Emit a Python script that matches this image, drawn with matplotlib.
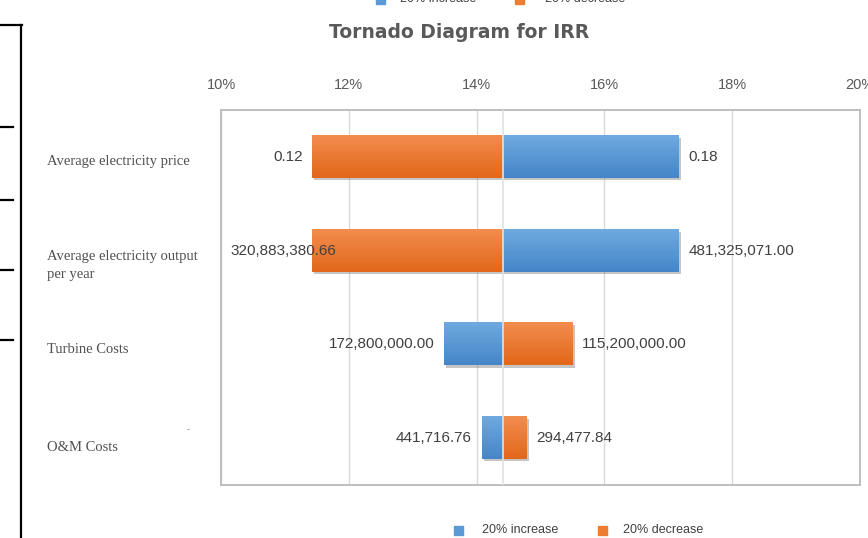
import numpy as np
import matplotlib
matplotlib.use('Agg')
import matplotlib.pyplot as plt
from matplotlib.colors import LinearSegmentedColormap
from matplotlib.lines import Line2D
import matplotlib.patheffects as pe

# data
categories = ['Average electricity price', 'Average electricity output\nper year',
              'Turbine Costs', 'O&M Costs']
base_irr = 14.41
irr_increase = [17.16, 17.16, 13.49, 14.08]
irr_decrease = [11.43, 11.43, 15.50, 14.78]
labels_increase = ['0.18', '481,325,071.00', '172,800,000.00', '441,716.76']
labels_decrease = ['0.12', '320,883,380.66', '115,200,000.00', '294,477.84']
xticks = [10, 12, 14, 16, 18, 20]
series_names = ['20% increase', '20% decrease']

W, H = 868, 538
fig = plt.figure(figsize=(W / 100, H / 100), dpi=100)
ax = fig.add_axes([221 / W, 1 - 485 / H, (860 - 221) / W, (485 - 110) / H])

blue, orange = '#5B9BD5', '#ED7D31'
cm_blue = LinearSegmentedColormap.from_list('b', ['#6FA9E0', '#4586C8'])
cm_orange = LinearSegmentedColormap.from_list('o', ['#F28D4E', '#E2671A'])
grad = np.linspace(0, 1, 64).reshape(-1, 1)

h = 0.45
y = np.arange(len(categories))
shadow = [pe.SimplePatchShadow(offset=(1.5, -1.5), shadow_rgbFace='#808080', alpha=0.45), pe.Normal()]

for vals, col, cmap in [(irr_increase, blue, cm_blue), (irr_decrease, orange, cm_orange)]:
    bars = ax.barh(y, np.array(vals) - base_irr, left=base_irr, height=h, color=col, zorder=2)
    for b, v, yi in zip(bars, vals, y):
        b.set_path_effects(shadow)
        x0, x1 = sorted([base_irr, v])
        ax.imshow(grad, cmap=cmap, extent=(x0, x1, yi + h / 2, yi - h / 2),
                  origin='upper', aspect='auto', zorder=2.5)

ax.set_xlim(10, 20)
ax.set_ylim(len(categories) - 0.5, -0.5)
ax.set_aspect('auto')

# category axis crossing at the base value
ax.axvline(base_irr, color='#e2e2e2', lw=1.2, zorder=3)

ax.set_xticks(xticks)
ax.set_xticklabels(['%d%%' % t for t in xticks])
ax.xaxis.tick_top()
ax.tick_params(axis='x', length=0, pad=13, labelsize=10.5, labelcolor='#595959')
for lab in ax.get_xticklabels():
    lab.set_family('Liberation Sans')
ax.set_yticks([])
ax.grid(axis='x', color='#d9d9d9', lw=1, zorder=0)
ax.set_axisbelow(True)
for s in ax.spines.values():
    s.set_color('#bfbfbf')
    s.set_linewidth(1.4)

# data labels at bar ends
texts = []
for vals, labs in [(irr_increase, labels_increase), (irr_decrease, labels_decrease)]:
    for v, lab, yi in zip(vals, labs, y):
        right = v > base_irr
        t = ax.annotate(lab, (v, yi), xytext=(7 if right else -7, 0), textcoords='offset points',
                        ha='left' if right else 'right', va='center', fontsize=11,
                        color='#404040', family='Liberation Sans', zorder=5)
        texts.append(t)

# labels that would run out of the plot area are pushed inside it, as Excel does
fig.canvas.draw()
ax_bb = ax.get_window_extent()
for t in texts:
    bb = t.get_window_extent()
    if bb.x0 < ax_bb.x0:
        t.xy = (0, t.xy[1])
        t.xycoords = ('axes fraction', 'data')
        t.xyann = (7, 0)
        t.set_ha('left')

# category labels (pasted on the left of the chart)
nudge = [5, 15, 5.5, 9.5]
for yi, cat, nd in zip(y, categories, nudge):
    ax.annotate(cat, (0, yi), xycoords=('axes fraction', 'data'), xytext=(-174 * 0.72, -nd * 0.72),
                textcoords='offset points', ha='left', va='center', fontsize=10.5,
                family='Liberation Serif', color='#505050', linespacing=1.45, annotation_clip=False)
fig.text(188 / W, 1 - 430 / H, '-', fontsize=6, color='#808080', ha='center', va='center')

fig.text(459 / W, 1 - 33 / H, 'Tornado Diagram for IRR', ha='center', va='center',
         fontsize=13.5, fontweight='bold', color='#595959', family='DejaVu Sans')

# legends: cut-off one at the top and the real one at the bottom
def legend_row(ypix, sq_x, txt_x):
    for sx, tx, col, name in zip(sq_x, txt_x, [blue, orange], series_names):
        fig.patches.append(plt.Rectangle(((sx) / W, 1 - (ypix + 5) / H), 9 / W, 9 / H,
                                         transform=fig.transFigure, color=col))
        fig.text(tx / W, 1 - ypix / H, name, ha='left', va='center', fontsize=9,
                 color='#404040', family='Liberation Sans')

legend_row(-1, [376, 515], [400, 545])
legend_row(530, [454, 598], [482, 623])

# table borders on the left edge of the screenshot
lk = dict(color='black', lw=1.6, transform=fig.transFigure)
fig.lines.append(Line2D([21 / W, 21 / W], [1 - 25 / H, 0], **lk))
fig.lines.append(Line2D([0, 22 / W], [1 - 25 / H, 1 - 25 / H], **lk))
for yy in [127, 200, 270, 340]:
    fig.lines.append(Line2D([0, 13 / W], [1 - yy / H, 1 - yy / H], **lk))

fig.savefig('out.png', dpi=100)
